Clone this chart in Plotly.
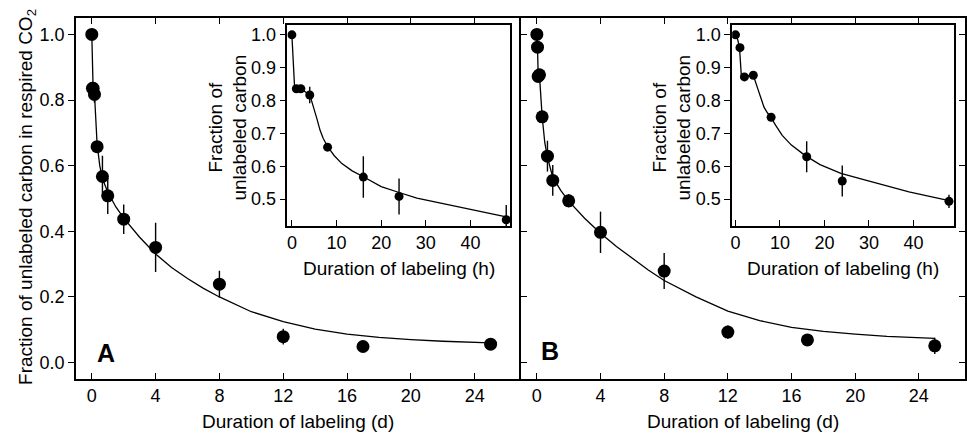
import plotly.graph_objects as go

# ---------------- data ----------------
days = [0, 0.042, 0.083, 0.167, 0.333, 0.667, 1, 2, 4, 8, 12, 17, 25]
a_vals = [1.0, 0.836, 0.836, 0.817, 0.658, 0.567, 0.508, 0.437, 0.351, 0.239, 0.079, 0.049, 0.056]
a_errs = [0, 0.01, 0.01, 0.025, 0.005, 0.063, 0.055, 0.045, 0.075, 0.041, 0.024, 0.0, 0.0]
b_vals = [1.0, 0.961, 0.872, 0.877, 0.749, 0.629, 0.555, 0.493, 0.397, 0.279, 0.093, 0.069, 0.051]
b_errs = [0, 0.005, 0.01, 0.005, 0.005, 0.047, 0.047, 0.02, 0.063, 0.055, 0.02, 0.0, 0.025]

hours = [0, 1, 2, 4, 8, 16, 24, 48]
ia_vals = [1.0, 0.836, 0.836, 0.817, 0.658, 0.567, 0.508, 0.437]
ia_errs = [0, 0.01, 0.01, 0.025, 0.005, 0.063, 0.055, 0.045]
ib_vals = [1.0, 0.961, 0.872, 0.877, 0.749, 0.629, 0.555, 0.493]
ib_errs = [0, 0.005, 0.01, 0.005, 0.005, 0.047, 0.047, 0.02]

# fitted curves
a_curve_x = [0, 0.042, 0.083, 0.167, 0.333, 0.5, 0.667, 1, 1.5, 2, 3, 4, 5, 6, 7, 8, 10, 12, 14, 16, 18, 20, 22, 25]
a_curve_y = [1.0, 0.84, 0.835, 0.82, 0.665, 0.6, 0.56, 0.52, 0.475, 0.44, 0.382, 0.331, 0.29, 0.256, 0.226, 0.2, 0.155, 0.125, 0.102, 0.087, 0.077, 0.07, 0.065, 0.06]
b_curve_x = [0, 0.042, 0.083, 0.167, 0.333, 0.5, 0.667, 1, 1.5, 2, 3, 4, 5, 6, 7, 8, 10, 12, 14, 16, 18, 20, 22, 25]
b_curve_y = [1.0, 0.96, 0.876, 0.874, 0.75, 0.67, 0.625, 0.565, 0.525, 0.492, 0.44, 0.394, 0.354, 0.318, 0.282, 0.25, 0.2, 0.157, 0.128, 0.107, 0.095, 0.087, 0.08, 0.074]
ia_curve_x = [0, 0.3, 0.6, 1, 2, 4, 4.9, 5.6, 6.3, 7, 8, 9.5, 11.2, 13.5, 16, 20, 24, 28, 33.6, 41, 48]
ia_curve_y = [1.0, 0.9, 0.842, 0.838, 0.835, 0.818, 0.78, 0.745, 0.71, 0.685, 0.66, 0.632, 0.608, 0.586, 0.568, 0.538, 0.52, 0.503, 0.487, 0.465, 0.446]
ib_curve_x = [0, 0.5, 0.9, 1.1, 1.3, 2, 4, 4.9, 5.6, 6.4, 7.2, 7.9, 9, 10.5, 12.5, 15.6, 19, 23.7, 28, 31.8, 39, 47.5]
ib_curve_y = [1.0, 0.985, 0.96, 0.92, 0.877, 0.874, 0.877, 0.84, 0.81, 0.78, 0.762, 0.75, 0.725, 0.694, 0.665, 0.633, 0.605, 0.578, 0.562, 0.548, 0.522, 0.497]

main_xticks = [0, 4, 8, 12, 16, 20, 24]
main_yticks = [0.0, 0.2, 0.4, 0.6, 0.8, 1.0]
inset_xticks = [0, 10, 20, 30, 40]
inset_yticks = [0.5, 0.6, 0.7, 0.8, 0.9, 1.0]

W, H = 967, 433
FONT = "Liberation Sans, Arial, sans-serif"
TICKF = dict(family=FONT, size=18, color="black")
TITLEF = dict(family=FONT, size=19, color="black")

def px(x):
    return x / W

def py(y):
    return 1 - y / H

fig = go.Figure()

def add_panel(xa, ya, cx, cy, xs, ys, es, msize):
    fig.add_trace(go.Scatter(x=cx, y=cy, mode="lines", line=dict(color="black", width=1.3),
                             xaxis=xa, yaxis=ya, showlegend=False, hoverinfo="skip"))
    fig.add_trace(go.Scatter(x=xs, y=ys, mode="markers",
                             marker=dict(color="black", size=msize),
                             error_y=dict(type="data", array=es, visible=True, color="black",
                                          thickness=1.4, width=0),
                             xaxis=xa, yaxis=ya, showlegend=False))

add_panel("x", "y", a_curve_x, a_curve_y, days, a_vals, a_errs, 13)
add_panel("x2", "y2", b_curve_x, b_curve_y, days, b_vals, b_errs, 13)
add_panel("x3", "y3", ia_curve_x, ia_curve_y, hours, ia_vals, ia_errs, 9)
add_panel("x4", "y4", ib_curve_x, ib_curve_y, hours, ib_vals, ib_errs, 9)

main_top, main_bot = 18, 379
ins_top, ins_bot = 25, 226
LW = 1.6

common = dict(showgrid=False, zeroline=False, linecolor="black", linewidth=LW,
              tickcolor="black", tickwidth=1.3, ticklen=6, tickfont=TICKF)

layout = dict(
    width=W, height=H, margin=dict(l=0, r=0, t=0, b=0),
    paper_bgcolor="white", plot_bgcolor="white", showlegend=False,
    xaxis=dict(domain=[px(74), px(520)], range=[-1, 26.9], tickvals=main_xticks,
               ticks="inside", mirror="ticks", showline=True, anchor="y", **common),
    yaxis=dict(domain=[py(main_bot), py(main_top)], range=[-0.05, 1.05], tickvals=main_yticks,
               tickformat=".1f", ticks="outside", mirror=False, showline=True, anchor="x", **common),
    yaxis5=dict(overlaying="y", side="right", anchor="x", range=[-0.05, 1.05], tickvals=main_yticks,
                ticks="inside", showticklabels=False, showline=False, showgrid=False, zeroline=False,
                tickcolor="black", tickwidth=1.3, ticklen=6),
    xaxis2=dict(domain=[px(520), px(965)], range=[-1, 26.9], tickvals=main_xticks,
                ticks="inside", mirror="ticks", showline=True, anchor="y2", **common),
    yaxis2=dict(domain=[py(main_bot), py(main_top)], range=[-0.05, 1.05], tickvals=main_yticks,
                ticks="inside", mirror="ticks", showline=True, showticklabels=False, anchor="x2", **common),
    xaxis3=dict(domain=[px(286), px(509.3)], range=[-1, 48.9], tickvals=inset_xticks,
                ticks="inside", mirror=True, showline=True, anchor="y3", **common),
    yaxis3=dict(domain=[py(ins_bot), py(ins_top)], range=[0.418, 1.03], tickvals=inset_yticks,
                tickformat=".1f", ticks="outside", mirror=True, showline=True, anchor="x3", **common),
    xaxis4=dict(domain=[px(731.7), px(954.3)], range=[-0.75, 49.2], tickvals=inset_xticks,
                ticks="inside", mirror=True, showline=True, anchor="y4", **common),
    yaxis4=dict(domain=[py(ins_bot), py(ins_top)], range=[0.418, 1.03], tickvals=inset_yticks,
                tickformat=".1f", ticks="outside", mirror=True, showline=True, anchor="x4", **common),
)
fig.update_layout(**layout)

def ann(text, x, y, size=19, angle=0, bold=False):
    t = f"<b>{text}</b>" if bold else text
    fig.add_annotation(text=t, x=px(x), y=py(y), xref="paper", yref="paper",
                       showarrow=False, textangle=angle, xanchor="center", yanchor="middle",
                       font=dict(family=FONT, size=size, color="black"))

ann("Fraction of unlabeled carbon in respired CO<sub>2</sub>", 25, 197, angle=-90)
ann("Duration of labeling (d)", 297, 421)
ann("Duration of labeling (d)", 742.5, 421)
ann("Duration of labeling (h)", 397.5, 268)
ann("Duration of labeling (h)", 843, 268)
ann("Fraction of<br>unlabeled carbon", 226, 128, angle=-90)
ann("Fraction of<br>unlabeled carbon", 671, 128, angle=-90)
ann("A", 104, 353, size=25, bold=True)
ann("B", 549, 351, size=25, bold=True)

fig.write_html("out.html")
